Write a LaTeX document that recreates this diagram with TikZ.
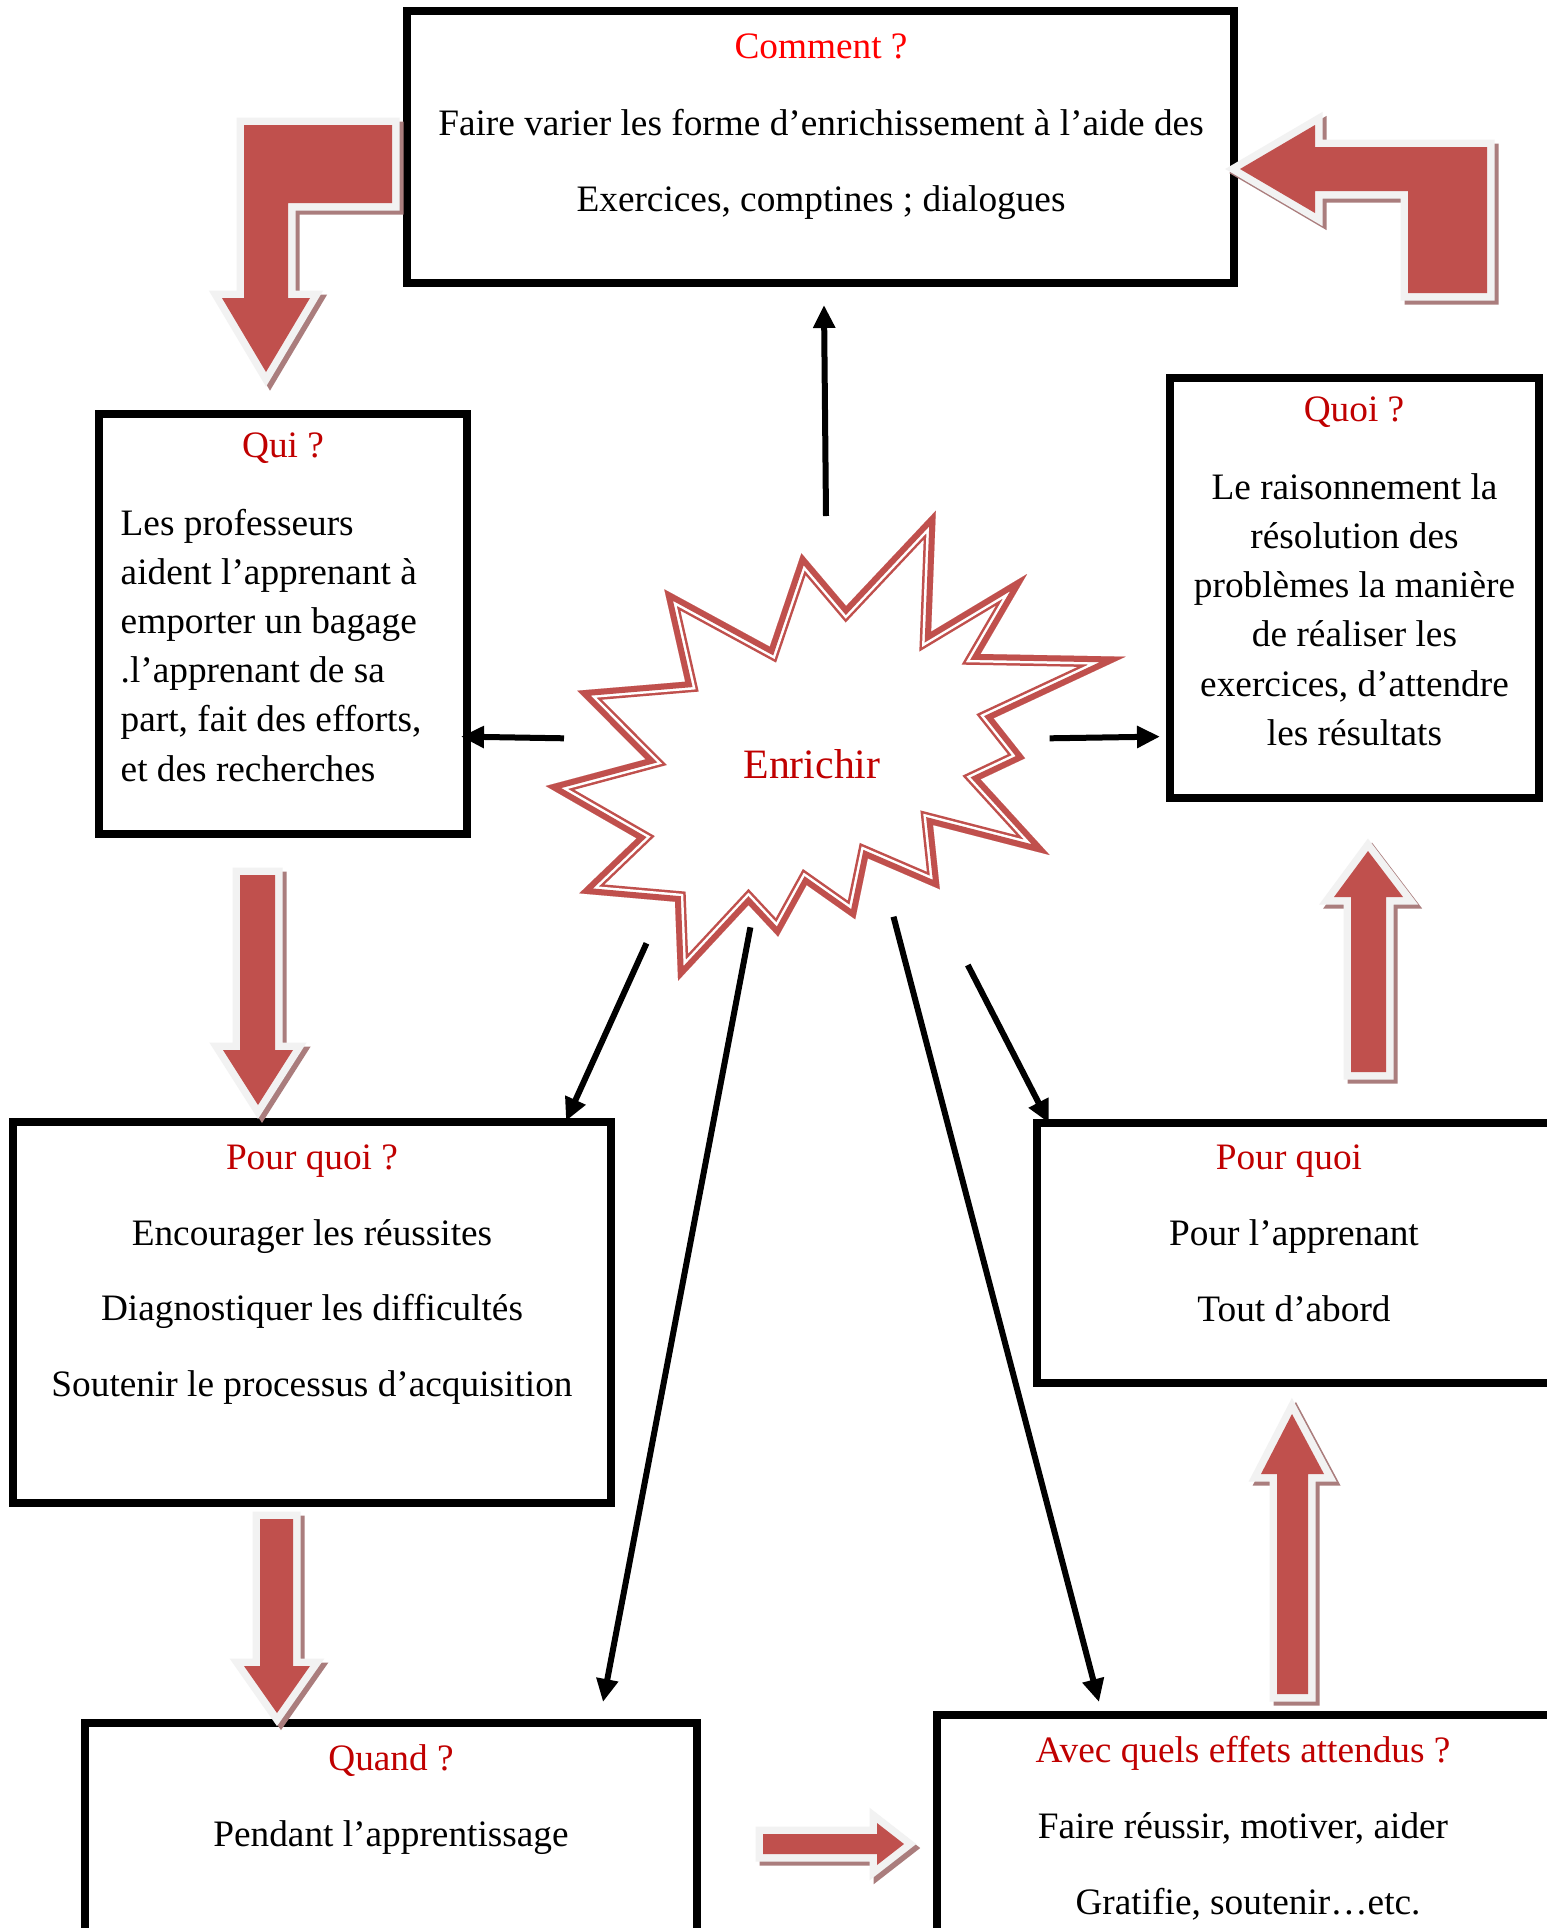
\documentclass[tikz,border=0pt]{standalone}
\usepackage{fontspec}
\setmainfont{Liberation Serif}
\usetikzlibrary{arrows.meta}
\definecolor{arrowred}{HTML}{C0504D}
\definecolor{outlgray}{HTML}{F2F2F2}
\definecolor{shadred}{RGB}{170,125,125}
\definecolor{titlered}{HTML}{C00000}
\definecolor{brightred}{HTML}{FF0000}
\newcommand\blockarrow[1]{%
  \draw[draw=shadred, line width=15pt, line join=miter, miter limit=4, shift={(4,4)}] #1;
  \draw[draw=outlgray, line width=15pt, line join=miter, miter limit=4] #1;
  \fill[arrowred] #1;}
\newcommand\starpath{(935.8,510.7) -- (931.1,631.7) -- (1027.1,574) -- (980.5,654) -- (1125.5,656.7) -- (993.5,718.3) -- (1025.1,758.3) -- (980.5,779.3) -- (1049.6,855) -- (933,825) -- (939.8,889.3) -- (867.8,858.3) -- (855.2,919.3) -- (806.6,885) -- (778.1,936.7) -- (748.5,905) -- (678.1,980.7) -- (675,901.7) -- (579.3,893.3) -- (636.6,838.3) -- (545.7,786) -- (645.7,759.3) -- (577.3,690.7) -- (685.2,681.7) -- (664.3,589.3) -- (769.8,646.7) -- (801.4,553.3) -- (846.1,606) -- cycle}
\begin{document}
\begin{tikzpicture}[x=1pt,y=-1pt,
  boxst/.style={draw=black, line width=8pt, rectangle, inner sep=0pt},
  txt/.style={anchor=base, inner sep=0pt, font=\fontsize{37.3}{45}\selectfont},
  ttl/.style={txt, text=titlered},
  ltxt/.style={txt, anchor=base west},
  conn/.style={line width=6pt, -{Triangle[length=23pt,width=21pt]}}]
\useasboundingbox (0,0) rectangle (1547,1928);
\fill[white] (0,0) rectangle (1547,1928);
\clip (0,0) rectangle (1547,1928);

% boxes
\node[boxst, minimum width=827pt, minimum height=272pt] (bcomment) at (820.5,147) {};
\node[boxst, minimum width=368pt, minimum height=420pt] (bqui) at (283,623.5) {};
\node[boxst, minimum width=369pt, minimum height=420pt] (bquoi) at (1354.5,588) {};
\node[boxst, minimum width=598pt, minimum height=381pt] (bpq) at (312,1312.5) {};
\node[boxst, minimum width=516pt, minimum height=260pt] (bpqr) at (1295,1253) {};
\node[boxst, minimum width=612pt, minimum height=217pt] (bquand) at (391,1831.5) {};
\node[boxst, minimum width=616pt, minimum height=225pt] (bavec) at (1245,1827.5) {};

% texts
\node[ttl, text=brightred] (t1) at (821,58) {Comment ?};
\node[txt] (t1a) at (821,135) {Faire varier les forme d’enrichissement à l’aide des};
\node[txt] (t1b) at (821,211.7) {Exercices, comptines ; dialogues};

\node[ttl] (t2) at (283,457) {Qui ?};
\node[ltxt] (t2a) at (120.5,535) {Les professeurs};
\node[ltxt] (t2b) at (120.5,584) {aident l’apprenant à};
\node[ltxt] (t2c) at (120.5,633) {emporter un bagage};
\node[ltxt] (t2d) at (120.5,682) {.l’apprenant de sa};
\node[ltxt] (t2e) at (120.5,731) {part, fait des efforts,};
\node[ltxt] (t2f) at (120.5,781) {et des recherches};

\node[ttl] (t3) at (1354,421.5) {Quoi ?};
\node[txt] (t3a) at (1354.5,499) {Le raisonnement la};
\node[txt] (t3b) at (1354.5,548) {résolution des};
\node[txt] (t3c) at (1354.5,597) {problèmes la manière};
\node[txt] (t3d) at (1354.5,646.5) {de réaliser les};
\node[txt] (t3e) at (1354.5,696) {exercices, d’attendre};
\node[txt] (t3f) at (1354.5,745) {les résultats};

\node[ttl] (t4) at (312,1169) {Pour quoi ?};
\node[txt] (t4a) at (312,1245) {Encourager les réussites};
\node[txt] (t4b) at (312,1320.7) {Diagnostiquer les difficultés};
\node[txt] (t4c) at (312,1396.7) {Soutenir le processus d’acquisition};

\node[ttl] (t5) at (1289,1169) {Pour quoi};
\node[txt] (t5a) at (1294,1245) {Pour l’apprenant};
\node[txt] (t5b) at (1294,1321) {Tout d’abord};

\node[ttl] (t6) at (391,1770.7) {Quand ?};
\node[txt] (t6a) at (391,1846.7) {Pendant l’apprentissage};

\node[ttl] (t7) at (1243,1762.7) {Avec quels effets attendus ?};
\node[txt] (t7a) at (1243,1838) {Faire réussir, motiver, aider};
\node[txt] (t7b) at (1248,1914) {Gratifie, soutenir…etc.};

% star
\begin{scope}
  \clip \starpath;
  \draw[arrowred, line width=22pt, line join=miter, miter limit=12] \starpath;
  \draw[white, line width=17pt, line join=miter, miter limit=12] \starpath;
  \draw[arrowred, line width=12pt, line join=miter, miter limit=12] \starpath;
\end{scope}
\node[anchor=base, inner sep=0pt, text=titlered, font=\fontsize{41.8}{48}\selectfont] (enr) at (812,778) {Enrichir};

% connectors
\coordinate (s1) at (826,516);   \coordinate (e1) at (824,305);
\coordinate (s2) at (564,738.3); \coordinate (e2) at (461,736.6);
\coordinate (s3) at (1049.6,738.3); \coordinate (e3) at (1160,736.6);
\coordinate (s4) at (646.5,943.3); \coordinate (e4) at (566,1121);
\coordinate (s5) at (750.4,927.3); \coordinate (e5) at (603,1702);
\coordinate (s6) at (893.5,916.7); \coordinate (e6) at (1099,1702);
\coordinate (s7) at (967.8,965);   \coordinate (e7) at (1049,1123);
\draw[conn] (s1) -- (e1);
\draw[conn] (s2) -- (e2);
\draw[conn] (s3) -- (e3);
\draw[conn] (s4) -- (e4);
\draw[conn] (s5) -- (e5);
\draw[conn] (s6) -- (e6);
\draw[conn] (s7) -- (e7);

% block arrows
\blockarrow{(244,125) -- (392,125) -- (392,203) -- (288,203) -- (288,298) -- (310,298) -- (266,372) -- (222,298) -- (244,298) -- cycle}
\blockarrow{(1240,169) -- (1315,125) -- (1315,147) -- (1487,147) -- (1487,293) -- (1408,293) -- (1408,191) -- (1315,191) -- (1315,213) -- cycle}
\blockarrow{(240,875) -- (275,875) -- (275,1050) -- (293,1050) -- (258,1105) -- (223,1050) -- (240,1050) -- cycle}
\blockarrow{(260,1519) -- (293,1519) -- (293,1666) -- (310,1666) -- (277,1713) -- (244,1666) -- (260,1666) -- cycle}
\blockarrow{(1368,851) -- (1403,897) -- (1386,897) -- (1386,1072) -- (1351,1072) -- (1351,897) -- (1334,897) -- cycle}
\blockarrow{(1292,1414) -- (1324,1474) -- (1308,1474) -- (1308,1694) -- (1277,1694) -- (1277,1474) -- (1261,1474) -- cycle}
\blockarrow{(763,1834) -- (877,1834) -- (877,1823) -- (904,1844) -- (877,1865) -- (877,1854) -- (763,1854) -- cycle}
\end{tikzpicture}
\end{document}
